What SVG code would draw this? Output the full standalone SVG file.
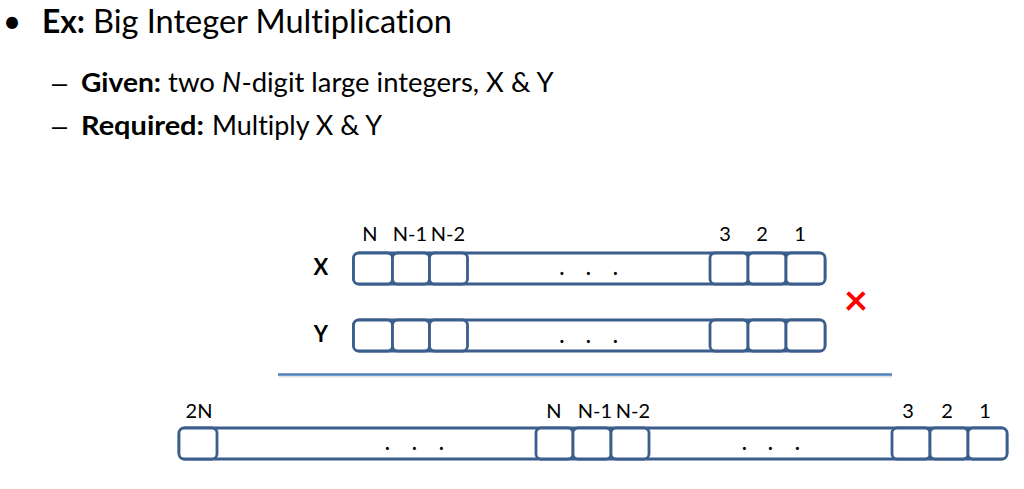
<svg xmlns="http://www.w3.org/2000/svg" width="1024" height="489" viewBox="0 0 1024 489">
<style>
  .t { font-family: Lato, "Open Sans", "Liberation Sans", sans-serif; fill: #000; font-variant-ligatures: none; }
  .dash { font-family: "Liberation Sans", sans-serif; font-size: 27px; fill: #000; }
  .h1 { font-size: 32px; }
  .h2 { font-size: 27px; }
  .b { font-weight: bold; }
  .i { font-style: italic; }
  .lbl { font-size: 20px; text-anchor: middle; }
  .dots { font-size: 20px; font-weight: bold; }
  .rowlbl { font-size: 22px; font-weight: bold; text-anchor: middle; }
  .box { fill: #fff; stroke: #3B5E8C; stroke-width: 2.8; }
  .cell { fill: #fff; stroke: #3B5E8C; stroke-width: 2.8; }
</style>
<rect width="1024" height="489" fill="#fff"/>

<g id="header">
  <text class="t h1" x="12" y="33" text-anchor="middle">•</text>
  <text class="t h1 b" x="42" y="33" textLength="43" lengthAdjust="spacingAndGlyphs">Ex:</text>
  <text class="t h1" x="93" y="33" textLength="359" lengthAdjust="spacingAndGlyphs">Big Integer Multiplication</text>

  <text class="dash" x="52" y="92">–</text>
  <text class="t h2 b" x="81" y="92" textLength="80" lengthAdjust="spacingAndGlyphs">Given:</text>
  <text class="t h2" x="168" y="92" textLength="47" lengthAdjust="spacingAndGlyphs">two</text>
  <text class="t h2 i" x="222" y="92" textLength="19" lengthAdjust="spacingAndGlyphs">N</text>
  <text class="t h2" x="241.5" y="92" textLength="312" lengthAdjust="spacingAndGlyphs">-digit large integers, X &amp; Y</text>

  <text class="dash" x="52" y="135">–</text>
  <text class="t h2 b" x="81" y="135" textLength="123" lengthAdjust="spacingAndGlyphs">Required:</text>
  <text class="t h2" x="212" y="135" textLength="170" lengthAdjust="spacingAndGlyphs">Multiply X &amp; Y</text>
</g>

<g id="x-row">
  <text class="t rowlbl" x="321" y="275">X</text>
  <rect class="box" x="353.5" y="253" width="471.5" height="31" rx="6"/>
  <rect class="cell" x="353.5" y="253" width="39" height="31" rx="5"/>
  <rect class="cell" x="392.5" y="253" width="37" height="31" rx="5"/>
  <rect class="cell" x="429.5" y="253" width="38" height="31" rx="5"/>
  <rect class="cell" x="710" y="253" width="38" height="31" rx="5"/>
  <rect class="cell" x="748" y="253" width="38" height="31" rx="5"/>
  <rect class="cell" x="786" y="253" width="39" height="31" rx="5"/>
  <text class="t dots" x="559.5 586 613" y="274.5">...</text>
  <text class="t lbl" x="370" y="241">N</text>
  <text class="t lbl" x="410" y="241">N-1</text>
  <text class="t lbl" x="448" y="241">N-2</text>
  <text class="t lbl" x="725" y="241">3</text>
  <text class="t lbl" x="762" y="241">2</text>
  <text class="t lbl" x="800" y="241">1</text>
</g>

<g id="y-row">
  <text class="t rowlbl" x="321" y="342">Y</text>
  <rect class="box" x="353.5" y="320" width="471.5" height="31" rx="6"/>
  <rect class="cell" x="353.5" y="320" width="39" height="31" rx="5"/>
  <rect class="cell" x="392.5" y="320" width="37" height="31" rx="5"/>
  <rect class="cell" x="429.5" y="320" width="38" height="31" rx="5"/>
  <rect class="cell" x="710" y="320" width="38" height="31" rx="5"/>
  <rect class="cell" x="748" y="320" width="38" height="31" rx="5"/>
  <rect class="cell" x="786" y="320" width="39" height="31" rx="5"/>
  <text class="t dots" x="559.5 586 613" y="342.5">...</text>
</g>

<g id="times">
  <text x="856" y="315" font-family="Lato, 'Liberation Sans', sans-serif" font-size="42" font-weight="bold" fill="#FF0000" text-anchor="middle">×</text>
</g>

<g id="connectors">
  <line x1="279" y1="376.5" x2="892" y2="376.5" stroke="#000" stroke-opacity="0.12" stroke-width="2"/>
  <line x1="278" y1="374.5" x2="892" y2="374.5" stroke="#4F81BD" stroke-width="2.5"/>
</g>

<g id="product-row">
  <rect class="box" x="179" y="428" width="828" height="31" rx="6"/>
  <rect class="cell" x="179" y="428" width="38" height="31" rx="5"/>
  <rect class="cell" x="536" y="428" width="37" height="31" rx="5"/>
  <rect class="cell" x="573" y="428" width="38" height="31" rx="5"/>
  <rect class="cell" x="611" y="428" width="38" height="31" rx="5"/>
  <rect class="cell" x="892" y="428" width="38" height="31" rx="5"/>
  <rect class="cell" x="930" y="428" width="38" height="31" rx="5"/>
  <rect class="cell" x="968" y="428" width="39" height="31" rx="5"/>
  <text class="t dots" x="385 412 439" y="450">...</text>
  <text class="t dots" x="742 768 795" y="450">...</text>
  <text class="t lbl" x="199" y="418">2N</text>
  <text class="t lbl" x="554" y="418">N</text>
  <text class="t lbl" x="595" y="418">N-1</text>
  <text class="t lbl" x="633" y="418">N-2</text>
  <text class="t lbl" x="908" y="418">3</text>
  <text class="t lbl" x="947" y="418">2</text>
  <text class="t lbl" x="985" y="418">1</text>
</g>
</svg>
